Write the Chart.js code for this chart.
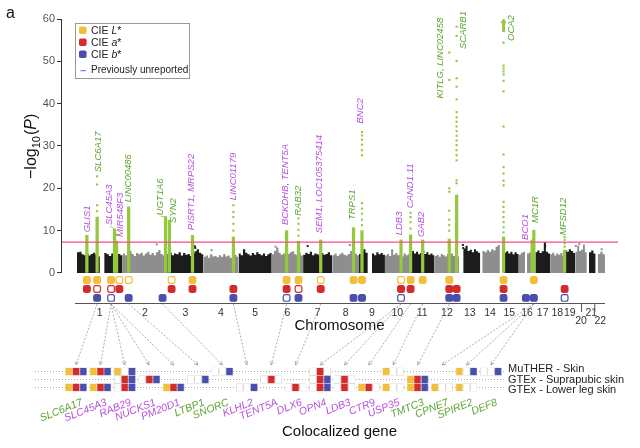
<!DOCTYPE html>
<html>
<head>
<meta charset="utf-8">
<script src="https://cdn.jsdelivr.net/npm/chart.js@4.4.1/dist/chart.umd.min.js"></script>
<style>
  html, body { margin: 0; padding: 0; background: #fff; }
  #wrap { position: relative; width: 640px; height: 448px; overflow: hidden; }
  #manhattan { position: absolute; left: 0; top: 0; }
  #coloc { position: absolute; left: 0; top: 300px; }
</style>
</head>
<body>
<div id="wrap">
  <canvas id="manhattan" width="640" height="340"></canvas>
  <canvas id="coloc" width="640" height="148"></canvas>
</div>
<script>
// 字体
const fontFamily = '"Liberation Sans", Arial, Helvetica, sans-serif';
Chart.defaults.font.family = fontFamily;
Chart.defaults.color = '#333';

// 染色体长度 (Mb)
const chromLengths = [249, 243, 198, 191, 181, 171, 159, 146, 141, 136, 135, 134, 115, 107, 103, 90, 81, 78, 59, 63, 48, 51];
const chromLabels = ['1', '2', '3', '4', '5', '6', '7', '8', '9', '10', '11', '12', '13', '14', '15', '16', '17', '18', '19', '20', '21', '22'];
const yTicks = [0, 10, 20, 30, 40, 50, 60];
const gwsThreshold = 7.3;

// 每条染色体的背景高度 (-log10 P)，沿染色体等距读取
const chromSkyline = [
    [4.9, 5.0, 4.4, 4.2, 4.6, 4.1, 4.5, 4.8, 4.3, 3.9, 0, 0, 4.7, 4.4, 4.0, 4.6, 4.3, 4.8, 4.5, 4.2],
    [4.6, 4.2, 4.9, 5.2, 4.5, 4.0, 4.7, 4.4, 4.8, 4.1, 4.6, 5.0, 4.3, 4.7, 4.2, 4.9, 5.4, 4.5, 4.1, 4.4],
    [4.5, 4.8, 4.2, 4.6, 4.4, 4.9, 4.1, 4.7, 4.3, 4.5, 4.0, 4.6, 5.1, 5.6, 4.8, 4.4],
    [3.8, 4.1, 3.6, 4.4, 3.9, 4.0, 3.7, 4.2, 3.8, 4.5, 3.9, 4.1, 3.6, 4.0, 4.3, 3.8],
    [4.6, 4.2, 5.6, 4.8, 4.4, 4.1, 4.7, 4.3, 4.9, 4.5, 4.2, 4.6, 4.0, 4.4, 4.7],
    [4.4, 5.2, 6.0, 4.8, 4.3, 4.6, 4.0, 4.5, 4.9, 5.1, 4.4, 4.2, 4.7, 4.1],
    [4.3, 4.8, 4.5, 5.0, 4.2, 4.6, 4.4, 4.1, 4.7, 4.3, 4.5, 4.9, 4.2],
    [4.2, 4.6, 4.0, 4.4, 4.8, 4.3, 4.1, 4.5, 5.2, 5.9, 4.6, 4.2],
    [4.5, 5.3, 5.6, 4.8, 0, 0, 4.6, 4.2, 4.9, 4.4, 4.7, 4.3],
    [4.1, 4.5, 4.0, 5.6, 4.3, 4.7, 4.2, 4.4, 3.9, 4.6, 4.2, 4.4],
    [4.8, 5.2, 4.6, 5.0, 4.4, 4.7, 5.3, 4.5, 4.9, 4.3, 4.6, 4.2],
    [4.0, 4.3, 3.8, 4.5, 4.2, 3.9, 4.4, 4.1, 4.6, 4.0, 4.3, 3.9],
    [0, 0, 5.8, 6.4, 5.2, 5.5, 4.9, 5.6, 5.1, 4.8],
    [0, 5.2, 4.9, 5.4, 5.0, 5.6, 5.3, 6.2, 6.6],
    [0, 0, 4.8, 5.1, 4.6, 5.0, 4.4, 4.9, 4.5],
    [4.3, 4.8, 5.0, 0, 4.6, 4.9, 5.2, 4.2],
    [4.9, 5.3, 4.7, 5.1, 7.0, 5.0, 4.6],
    [4.4, 4.8, 4.1, 4.6, 4.3, 4.7, 4.0],
    [5.4, 5.0, 5.6, 5.2, 4.7],
    [5.0, 6.4, 5.2, 5.5, 6.7, 4.9],
    [0, 4.9, 5.3, 4.6],
    [0, 4.5, 5.0, 4.4]
];

// 背景里零星高出的点
const outlierChrom = [2, 3, 3, 4, 6, 7, 8, 13, 13, 17, 17, 20, 20, 22];
const outlierPos = [186, 151, 153, 44, 21, 25, 96, 20, 22, 53, 54, 3, 22, 33];
const outlierP = [6.75, 6.3, 5.9, 5.4, 6.2, 6.35, 6.6, 6.6, 5.9, 7.1, 6.3, 6.4, 6.8, 5.6];

// 显著位点
const lociNames = ['GLIS1', 'SLC6A17', 'SLC45A3', 'MIR548F3', 'LINC00486', 'UGT1A6', 'SYN2', 'PISRT1, MRPS22',
    'LINC01179', 'BCKDHB, TENT5A', 'RAB32', 'SEM1, LOC105375414', 'TRPS1', 'BNC2', 'LDB3', 'CAND1.11', 'GAB2',
    'KITLG, LINC02458', 'SCARB1', 'OCA2', 'BCO1', 'MC1R', 'MFSD12'];
const lociChrom = [1, 1, 1, 1, 2, 2, 3, 3, 4, 6, 6, 7, 8, 9, 10, 11, 11, 12, 12, 15, 16, 16, 19];
const lociPos = [54, 110, 205, 216, 33, 234, 12, 138, 163, 81, 146, 96, 116, 16, 88, 4, 70, 80, 120, 20, 73, 82, 1];
const lociNovel = [true, false, true, true, false, false, false, true, true, true, false, true, false, true, true, true, true,
    false, false, false, true, false, false];
const lociTop = [8.9, 13.2, 10.4, 7.5, 15.6, 13.3, 12.5, 8.9, 8.5, 10, 7.5, 7.8, 10.7, 10, 7.8, 9, 7.8, 8, 18.4, 8.5, 7.8, 10.1, 5.4];
const lociDots = [
    [], [14.6, 16, 20.9, 22.8], [], [9], [], [], [], [],
    [10, 11.6, 13.2, 14.4, 16], [], [8.8, 10.2, 11.6, 12.9], [], [],
    [11.3, 12.6, 14, 15.2, 16.5, 27.8, 29, 30.3, 31.5, 32.5, 33.3], [], [10.5, 12, 13.2, 14.2], [],
    [10, 11.3, 12.6, 14.7, 19.2, 20, 45.6, 52.1],
    [21.2, 21.9, 26.6, 27.8, 29, 30.2, 31.3, 32.4, 33.5, 34.6, 35.7, 36.8, 38, 41, 44, 46, 50.1, 56, 58.2],
    [9.6, 10.8, 12, 13.2, 14.4, 15.6, 16.8, 20.7, 21.8, 23.5, 25, 28, 34.6, 42.9, 45.4, 46.9, 47.6, 48.3, 49, 54.4],
    [], [], [6.2, 7, 7.8, 8.5]
];
const arrowLocus = 19;
const arrowP = 59.4;

// CIE 标记: F 实心, O 空心
const markL = ['F', 'F', 'F', 'O', 'O', '', 'O', 'F', '', 'F', 'F', 'O', 'F', 'F', 'O', 'F', 'F', 'F', '', 'F', '', 'F', ''];
const markA = ['F', 'O', 'O', 'F', '', '', 'F', 'F', 'F', 'F', 'O', 'F', '', '', 'F', 'F', '', 'F', 'F', 'F', '', '', 'F'];
const markB = ['', 'F', 'O', '', 'F', 'F', '', '', 'F', 'O', 'F', '', 'F', 'F', 'O', '', '', 'F', 'F', 'F', 'F', 'F', 'O'];

// 共定位基因
const geneNames = ['SLC6A17', 'SLC45A3', 'RAB29', 'NUCKS1', 'PM20D1', 'LTBP1', 'SNORC', 'KLHL2', 'TENT5A', 'DLX6',
    'OPN4', 'LDB3', 'CTR9', 'USP35', 'TMTC3', 'CPNE7', 'SPIRE2', 'DEF8'];
const geneNovel = [false, true, true, true, true, false, false, true, true, true, true, true, true, true, false, false, false, false];
const geneLocus = [1, 2, 2, 2, 2, 4, 5, 8, 9, 11, 14, 14, 15, 16, 17, 21, 21, 21];
const tissueNames = ['MuTHER - Skin', 'GTEx - Suprapubic skin', 'GTEx - Lower leg skin'];
const colocMuther = ['Lab', 'Lab', 'L-b', null, null, null, '--b', null, null, null, '-a-', null, null, 'L--', null, null, 'L-b', '--b'];
const colocSuprapubic = [null, null, '-ab', '-ab', null, '--b', null, null, '-a-', null, '-ab', '-a-', null, null, 'Lab', null, null, null];
const colocLowerLeg = ['Lab', 'Lab', '-ab', null, 'Lab', null, null, '--b', null, '-a-', '-ab', '-a-', 'La-', 'L--', 'Lab', 'L--', 'L--', null];

// ---- 版式 (不是数据) ----
const labelDx = [0, 1, -5.6, 3.4, -0.7, -5.6, 3.6, -1.5, 0, -1.6, 0, -1.7, -1.3, -2, -2, -0.5, -1, -8.5, 6.3, 8, -6.4, 2, -1];
const labelAt = [9.6, 23.8, 11.3, 8.5, 16.7, 13.6, 11.8, 10.1, 17.2, 11.3, 13.5, 9.4, 12.5, 35.3, 8.9, 15.3, 8.5, 41.2, 52.9, 54.8, 7.8, 11.8, 8.9];
const labelLeader = [2, 5];
const markerShift = [0, 0, -19, 15, 0, -16, 12, 0, 0, 0, 0, 0, 0, 0, 0, 0, 0, 0, 0, 0, -34, 0, 0];
const markerRows = [-1.65, -3.78, -5.9];
const staggered = ['20', '22'];
const colocTop = 300;

const colorL = '#f1bf3a';
const colorA = '#d42b2b';
const colorB = '#4a4fae';
const greenMark = '#95c83c';
const greenText = '#5ea532';
const purpleText = '#b553dc';
const pinkLine = '#f24f8c';
const darkChrom = '#1c1c1c';
const lightChrom = '#8e8e8e';

// 累计位置
const chromStarts = [];
let acc = 0;
chromLengths.forEach(len => { chromStarts.push(acc); acc += len; });
const genomeLength = acc;
const gpos = (chr, mb) => chromStarts[chr - 1] + mb;
const chromCenters = chromLengths.map((len, i) => chromStarts[i] + len / 2);
const xMin = -87;
const xMax = genomeLength + 71;
const lociX = lociPos.map((p, i) => gpos(lociChrom[i], p));

// 背景
const skylineSets = chromSkyline.map((vals, c) => {
    const step = chromLengths[c] / vals.length;
    const pts = vals.map((v, i) => ({ x: chromStarts[c] + i * step, y: v }));
    pts.push({ x: chromStarts[c] + chromLengths[c], y: vals[vals.length - 1] });
    return {
        type: 'line', data: pts, stepped: 'before', fill: 'origin',
        backgroundColor: c % 2 === 0 ? darkChrom : lightChrom,
        borderWidth: 0, pointRadius: 0, order: 10
    };
});

const outlierSet = {
    type: 'scatter',
    data: outlierPos.map((p, i) => ({ x: gpos(outlierChrom[i], p), y: outlierP[i] })),
    pointStyle: 'rect', pointRadius: 1.4, pointBorderWidth: 0,
    pointBackgroundColor: outlierChrom.map(c => c % 2 === 1 ? darkChrom : lightChrom),
    order: 9
};

const thresholdSet = {
    type: 'line',
    data: [{ x: xMin, y: gwsThreshold }, { x: xMax, y: gwsThreshold }],
    borderColor: pinkLine, borderWidth: 1.2, pointRadius: 0, order: 1
};

const columnSet = {
    type: 'bar',
    data: lociX.map((x, i) => ({ x, y: [0, lociTop[i]] })),
    backgroundColor: greenMark, barThickness: 2.6, grouped: false, order: 3
};

const dotPoints = [];
lociDots.forEach((dots, i) => dots.forEach(v => dotPoints.push({ x: lociX[i], y: v })));
const dotSet = {
    type: 'scatter', data: dotPoints,
    pointStyle: 'rect', pointRadius: 1.5, pointBorderWidth: 0, pointBackgroundColor: greenMark, order: 2
};

const arrowHeadSet = {
    type: 'scatter', data: [{ x: lociX[arrowLocus], y: arrowP }],
    pointStyle: 'triangle', pointRadius: 3.6, pointBorderWidth: 0, pointBackgroundColor: greenMark, order: 2
};
const arrowStemSet = {
    type: 'bar', data: [{ x: lociX[arrowLocus], y: [arrowP - 2.4, arrowP - 0.4] }],
    backgroundColor: greenMark, barThickness: 2.2, grouped: false, order: 3
};

function markerSet(marks, row, color) {
    const pts = [];
    marks.forEach((m, i) => {
        if (m) pts.push({ x: lociX[i] + markerShift[i], y: row, filled: m === 'F' });
    });
    return {
        type: 'scatter', data: pts,
        pointStyle: 'rectRounded', pointRadius: 3.9, pointBorderWidth: 1.2,
        pointBackgroundColor: ctx => (ctx.raw && ctx.raw.filled ? color : '#fff'),
        pointBorderColor: color, order: 0
    };
}

function drawMixed(ctx, parts, x, y, size) {
    parts.forEach(([t, italic]) => {
        ctx.font = (italic ? 'italic ' : '') + size + 'px ' + fontFamily;
        ctx.fillText(t, x, y);
        x += ctx.measureText(t).width;
    });
}

// 轴线、图例、位点标签
const manhattanDecor = {
    id: 'manhattanDecor',
    afterDatasetsDraw(chart) {
        const { ctx, chartArea, scales: { x, y } } = chart;
        ctx.save();

        // 轴线
        ctx.strokeStyle = '#333';
        ctx.lineWidth = 1;
        ctx.beginPath();
        ctx.moveTo(chartArea.left + 0.5, y.getPixelForValue(0));
        ctx.lineTo(chartArea.left + 0.5, y.getPixelForValue(60));
        ctx.stroke();
        ctx.strokeStyle = '#555';
        ctx.beginPath();
        ctx.moveTo(x.getPixelForValue(0) - 2, chartArea.bottom + 0.5);
        ctx.lineTo(x.getPixelForValue(genomeLength), chartArea.bottom + 0.5);
        ctx.moveTo(x.getPixelForValue(chromCenters[19]) + 0.5, chartArea.bottom);
        ctx.lineTo(x.getPixelForValue(chromCenters[19]) + 0.5, chartArea.bottom + 9);
        ctx.moveTo(x.getPixelForValue(chromCenters[21]) - 5.5, chartArea.bottom);
        ctx.lineTo(x.getPixelForValue(chromCenters[21]) - 5.5, chartArea.bottom + 9);
        ctx.stroke();

        // 位点标签
        ctx.textAlign = 'left';
        ctx.textBaseline = 'middle';
        ctx.font = 'italic 9.5px ' + fontFamily;
        lociNames.forEach((name, i) => {
            const px = x.getPixelForValue(lociX[i]) + labelDx[i];
            const py = y.getPixelForValue(labelAt[i]);
            ctx.save();
            ctx.translate(px, py);
            ctx.rotate(-Math.PI / 2);
            ctx.fillStyle = lociNovel[i] ? purpleText : greenText;
            ctx.fillText(name, 0, 0);
            ctx.restore();
        });
        ctx.strokeStyle = greenMark;
        ctx.lineWidth = 0.8;
        labelLeader.forEach(i => {
            ctx.beginPath();
            ctx.moveTo(x.getPixelForValue(lociX[i]) + labelDx[i] + 1, y.getPixelForValue(labelAt[i]) + 1);
            ctx.lineTo(x.getPixelForValue(lociX[i]), y.getPixelForValue(lociTop[i]));
            ctx.stroke();
        });

        // 图例
        const lx = chartArea.left + 14, ly = 23;
        ctx.strokeStyle = '#999';
        ctx.lineWidth = 1;
        ctx.strokeRect(lx + 0.5, ly + 0.5, 114, 55);
        ctx.textAlign = 'left';
        ctx.textBaseline = 'middle';
        [[colorL, 'L'], [colorA, 'a'], [colorB, 'b']].forEach(([c, letter], k) => {
            const cy = ly + 7.3 + k * 12;
            ctx.fillStyle = c;
            ctx.beginPath();
            ctx.roundRect(lx + 4, cy - 3.8, 7.6, 7.6, 1.8);
            ctx.fill();
            ctx.fillStyle = '#222';
            drawMixed(ctx, [['CIE ', false], [letter, true], ['*', false]], lx + 16, cy + 0.5, 10.5);
        });
        ctx.strokeStyle = purpleText;
        ctx.lineWidth = 1.1;
        ctx.beginPath();
        ctx.moveTo(lx + 5.5, ly + 47.7);
        ctx.lineTo(lx + 11, ly + 47.7);
        ctx.stroke();
        ctx.fillStyle = '#222';
        ctx.font = '10px ' + fontFamily;
        ctx.fillText('Previously unreported', lx + 16, ly + 47.7);

        // 面板字母与纵轴标题
        ctx.fillStyle = '#111';
        ctx.font = '16px ' + fontFamily;
        ctx.textBaseline = 'alphabetic';
        ctx.fillText('a', 6, 18);
        ctx.save();
        ctx.translate(36, 179);
        ctx.rotate(-Math.PI / 2);
        let tx = 0;
        ctx.font = '16px ' + fontFamily;
        ctx.fillText('\u2212log', tx, 0);
        tx += ctx.measureText('\u2212log').width;
        ctx.font = '11px ' + fontFamily;
        ctx.fillText('10', tx, 4);
        tx += ctx.measureText('10').width + 1;
        ctx.font = '16px ' + fontFamily;
        ctx.fillText('(', tx, 0);
        tx += ctx.measureText('(').width;
        ctx.font = 'italic 16px ' + fontFamily;
        ctx.fillText('P', tx, 0);
        tx += ctx.measureText('P').width;
        ctx.font = '16px ' + fontFamily;
        ctx.fillText(')', tx, 0);
        ctx.restore();

        ctx.restore();
    }
};

const manhattanChart = new Chart(document.getElementById('manhattan'), {
    type: 'scatter',
    data: {
        datasets: [
            ...skylineSets, outlierSet, thresholdSet, columnSet, arrowStemSet, dotSet, arrowHeadSet,
            markerSet(markL, markerRows[0], colorL),
            markerSet(markA, markerRows[1], colorA),
            markerSet(markB, markerRows[2], colorB)
        ]
    },
    options: {
        responsive: false,
        animation: false,
        events: [],
        layout: { autoPadding: false, padding: { left: 0, top: 19, right: 22, bottom: 0 } },
        plugins: { legend: { display: false }, tooltip: { enabled: false } },
        scales: {
            x: {
                type: 'linear', min: xMin, max: xMax, offset: false,
                afterBuildTicks: scale => { scale.ticks = chromCenters.map(v => ({ value: v })); },
                afterFit: scale => { scale.height = 37; scale.paddingLeft = 0; scale.paddingRight = 0; },
                ticks: {
                    autoSkip: false, maxRotation: 0, padding: 6,
                    font: { size: 10.5, lineHeight: 0.8 }, color: '#333',
                    callback: (v, i) => (staggered.includes(chromLabels[i]) ? ['', chromLabels[i]] : chromLabels[i])
                },
                grid: { display: false, offset: false, drawTicks: false, tickLength: 0 },
                border: { display: false },
                title: { display: true, text: 'Chromosome', font: { size: 15 }, color: '#111', padding: { top: 0, bottom: 5 } }
            },
            y: {
                type: 'linear', min: -7.1, max: 60,
                afterBuildTicks: scale => { scale.ticks = yTicks.map(v => ({ value: v })); },
                afterFit: scale => { scale.width = 61; },
                ticks: { autoSkip: false, font: { size: 11 }, color: '#555', padding: 2 },
                grid: { drawOnChartArea: false, tickLength: 4, color: '#333' },
                border: { display: false }
            }
        }
    },
    plugins: [manhattanDecor]
});

// 共定位矩阵
const colocRows = [colocMuther, colocSuprapubic, colocLowerLeg];
function cellSet(ch, color) {
    const pts = [];
    colocRows.forEach((row, r) => row.forEach((cell, g) => {
        if (cell) pts.push({ x: g, y: [r - 0.5, r + 0.5], on: cell.includes(ch) });
    }));
    return {
        data: pts,
        backgroundColor: ctx => (ctx.raw && ctx.raw.on ? color : '#fff'),
        borderColor: ctx => (ctx.raw && ctx.raw.on ? color : '#b5b5b5'),
        borderWidth: 0.6, borderSkipped: false,
        categoryPercentage: 0.885, barPercentage: 1
    };
}

const colocDecor = {
    id: 'colocDecor',
    afterDraw(chart) {
        const { ctx, chartArea, scales: { x, y } } = chart;
        const mx = manhattanChart.scales.x;
        const y0 = manhattanChart.chartArea.bottom - colocTop + 1;
        const y1 = chartArea.top - 2.5;
        ctx.save();

        // 连线
        ctx.strokeStyle = '#8c8c8c';
        ctx.lineWidth = 0.7;
        geneLocus.forEach((li, g) => {
            const x0 = mx.getPixelForValue(lociX[li] + markerShift[li]);
            const x1 = x.getPixelForValue(g);
            ctx.setLineDash([2, 1.6]);
            ctx.beginPath();
            ctx.moveTo(x0, y0);
            ctx.lineTo(x1, y1);
            ctx.stroke();
            const ang = Math.atan2(y1 - y0, x1 - x0);
            ctx.setLineDash([]);
            ctx.beginPath();
            ctx.moveTo(x1 - 4 * Math.cos(ang - 0.45), y1 - 4 * Math.sin(ang - 0.45));
            ctx.lineTo(x1, y1);
            ctx.lineTo(x1 - 4 * Math.cos(ang + 0.45), y1 - 4 * Math.sin(ang + 0.45));
            ctx.stroke();
        });

        // 基因名
        ctx.font = 'italic 10.5px ' + fontFamily;
        ctx.textAlign = 'right';
        ctx.textBaseline = 'middle';
        geneNames.forEach((name, g) => {
            ctx.save();
            ctx.translate(x.getPixelForValue(g) + 6, chartArea.bottom + 10.5);
            ctx.rotate(-22 * Math.PI / 180);
            ctx.fillStyle = geneNovel[g] ? purpleText : greenText;
            ctx.fillText(name, 0, 0);
            ctx.restore();
        });

        // 组织名
        ctx.font = '11px ' + fontFamily;
        ctx.textAlign = 'left';
        ctx.fillStyle = '#222';
        tissueNames.forEach((name, r) => {
            ctx.fillText(name, chartArea.right + 3, y.getPixelForValue(r) + (r - 1) * 2.3);
        });

        const mArea = manhattanChart.chartArea;
        ctx.fillStyle = '#111';
        ctx.font = '15px ' + fontFamily;
        ctx.textAlign = 'center';
        ctx.fillText('Colocalized gene', (mArea.left + mArea.right) / 2, 132);
        ctx.restore();
    }
};

new Chart(document.getElementById('coloc'), {
    type: 'bar',
    data: { datasets: [cellSet('L', colorL), cellSet('a', colorA), cellSet('b', colorB)] },
    options: {
        responsive: false,
        animation: false,
        events: [],
        layout: { autoPadding: false, padding: { left: 35, top: 67.5, right: 0, bottom: 0 } },
        plugins: { legend: { display: false }, tooltip: { enabled: false } },
        scales: {
            x: {
                type: 'linear', min: -1.68, max: 17.58, offset: false,
                afterBuildTicks: scale => { scale.ticks = geneNames.map((n, i) => ({ value: i })); },
                afterFit: scale => { scale.height = 56.5; },
                ticks: { display: false },
                grid: { display: false, offset: false },
                border: { display: false }
            },
            y: {
                type: 'linear', position: 'right', min: -0.5, max: 2.5, reverse: true,
                afterBuildTicks: scale => { scale.ticks = tissueNames.map((n, i) => ({ value: i })); },
                afterFit: scale => { scale.width = 135; },
                ticks: { display: false },
                grid: { color: '#9a9a9a', lineWidth: 0.8, drawTicks: false },
                border: { display: false, dash: [1, 2] }
            }
        }
    },
    plugins: [colocDecor]
});
</script>
</body>
</html>
